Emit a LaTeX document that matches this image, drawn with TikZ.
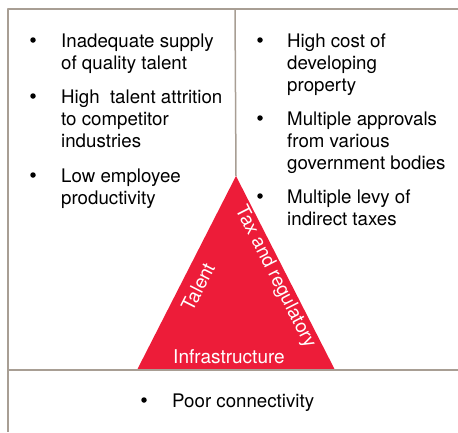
\documentclass[tikz,border=0pt]{standalone}
\usepackage{fontspec}
\setmainfont{TeX Gyre Heros}
\definecolor{frame}{HTML}{A89E94}
\definecolor{pyramid}{HTML}{ED1C39}
\begin{document}
\begin{tikzpicture}[x=1pt,y=-1pt,line join=round,font=\fontsize{18.7}{22}\selectfont,
		rule/.style={draw=frame,line width=1.5pt},
		dot/.style={circle,fill=black,inner sep=0pt,minimum size=5.5pt},
		item/.style={anchor=base west,align=left,inner sep=0pt},
		side/.style={text=white,inner sep=0pt,font=\fontsize{19}{22}\selectfont}]
	\useasboundingbox (0,0) rectangle (458,432);
	% triangle
	\coordinate (apex) at (236,176);
	\coordinate (bl) at (137,370);
	\coordinate (br) at (335,370);
	\fill[pyramid] (apex)--(bl)--(br)--cycle;
	% frame lines
	\draw[rule] (458,9)--(8,9)--(8,432);
	\draw[rule] (8,370)--(458,370);
	\draw[rule] (235,9)--(apex);
	% left column: first baseline / last baseline / text
	\foreach \y/\yy/\txt [count=\i] in {47/69/{Inadequate supply\\of quality talent},103/147/{High\ \ talent attrition\\to competitor\\industries},182/204/{Low employee\\productivity}}{
		\node[dot] (lb\i) at (33,\y-7) {};
		\node[item] (lt\i) at (61,\yy) {\txt};
	}
	% right column
	\foreach \y/\yy/\txt [count=\i] in {47/91/{High cost of\\developing\\property},125/169/{Multiple approvals\\from various\\government bodies},203/225/{Multiple levy of\\indirect taxes}}{
		\node[dot] (rb\i) at (260,\y-7) {};
		\node[item] (rt\i) at (287,\yy) {\txt};
	}
	% bottom row
	\node[dot] (bb) at (144,400) {};
	\node[item] (bt) at (172,407) {Poor connectivity};
	% labels on the triangle
	\node[side,rotate=63] (talent) at (198,287) {Talent};
	\node[side,rotate=-63] (tax) at (275,277) {Tax and regulatory};
	\node[side] (infra) at (229,357) {Infrastructure};
\end{tikzpicture}
\end{document}
